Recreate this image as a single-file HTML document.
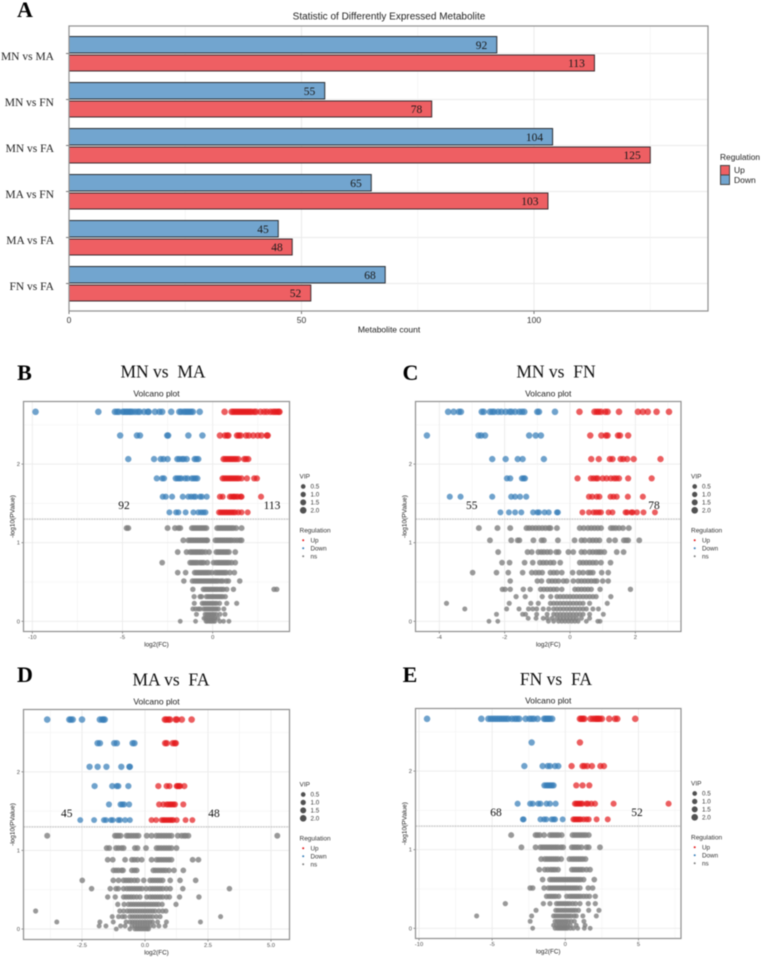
<!DOCTYPE html>
<html lang="en">
<head>
<meta charset="utf-8">
<title>Differently Expressed Metabolites</title>
<style>
html,body{margin:0;padding:0;background:#fff;}
body{width:761px;height:959px;overflow:hidden;}
svg{display:block;}
.sans{font-family:"Liberation Sans",sans-serif;}
.serif{font-family:"Liberation Serif",serif;}
text{white-space:pre;}
</style>
</head>
<body>
<svg id="figure" width="761" height="959" viewBox="0 0 761 959" xmlns="http://www.w3.org/2000/svg" style="filter:blur(0.45px)"></svg>
<script>
// ---------- Panel A data ----------
const comparisons = ["MN vs MA","MN vs FN","MN vs FA","MA vs FN","MA vs FA","FN vs FA"];
const downCounts = [92,55,104,65,45,68];
const upCounts = [113,78,125,103,48,52];
const barTicks = [0,50,100];

// ---------- Shared volcano data ----------
const sigLevels = [2.665,2.364,2.064,1.818,1.585,1.386];
const nsLevels = [1.186,1.03,0.881,0.746,0.619,0.513,0.407,0.314,0.229,0.157,0.089,0.038,0];
const sigVip = [2,1.9,1.8,1.7,1.6,1.5];
const nsVip = [1.5,1.45,1.4,1.35,1.3,1.2,1.1,1,0.9,0.8,0.75,0.7,0.65];
const legendVip = [0.5,1,1.5,2];
const yTicks = [0,1,2];

// ---------- Panel B : MN vs MA ----------
const bDown = [
[-9.82,-6.34,-5.42,-5.3,-5.2,-4.98,-4.9,-4.8,-4.72,-4.62,-4.55,-4.45,-4.3,-4.15,-4.05,-3.8,-3.6,-3.55,-3.2,-2.95,-2.8,-2.3,-1.85,-1.75,-1.6,-1.5,-1.4,-1.3,-1.2,-1.1,-0.72],
[-5.13,-4.2,-4.03,-2.52,-2.47,-1.35,-0.57],
[-4.68,-3.25,-2.88,-2.73,-2.5,-1.96,-1.85,-1.7,-1.6,-1.44,-1,-0.9,-0.8],
[-3.1,-2.8,-2.7,-2.05,-1.95,-1.85,-1.75,-1.53,-1.4,-1.16,-1.05,-0.95,-0.85],
[-2.77,-2.6,-2.25,-1.66,-1.35,-1.2,-1.05,-0.95,-0.7,-0.6,-0.33],
[-2.4,-2.03,-1.9,-1.5,-1.07,-0.8,-0.65,-0.52,-0.4]
];
const bUp = [
[0.66,1.05,1.15,1.25,1.35,1.45,1.55,1.65,1.75,1.85,1.95,2.05,2.15,2.3,2.4,2.65,2.85,3,3.2,3.35,3.45,3.55,3.65,3.7],
[0.4,0.68,0.8,0.87,1.35,1.45,1.55,1.85,2,2.25,2.5,2.7,3,3.05],
[0.6,0.7,0.8,0.9,1,1.1,1.2,1.3,1.42,1.75,1.85,1.97],
[0.55,0.65,0.75,0.85,0.95,1.05,1.15,1.25,1.35,1.45,1.6,1.9,2.3,2.45],
[0.4,0.55,0.95,1.05,1.15,1.2,1.3,1.4,1.55,1.6,2.68],
[0.35,0.45,0.55,0.65,0.75,0.85,0.95,1.05,1.15,1.25,1.42,1.6,1.94]
];
const bNs = [
[-4.77,-4.68,-2.5,-2.09,-1.9,-1.8,-1.15,-1.05,-0.95,-0.85,-0.75,-0.65,-0.55,-0.45,-0.35,0.25,0.35,0.45,0.55,0.65,0.75,0.85,0.95,1.05,1.15,1.3,1.6],
[-1.63,-1.35,-1.25,-1.15,-1.05,-0.95,-0.85,-0.75,-0.65,-0.55,-0.45,-0.35,-0.3,0.15,0.25,0.35,0.45,0.55,0.65,0.75,0.85,0.95,1.05,1.2,1.35,1.5,1.6],
[-1.94,-1.45,-1.25,-1.15,-1.05,-0.95,-0.85,-0.75,-0.65,-0.55,-0.4,-0.2,0.2,0.3,0.4,0.5,0.6,0.7,0.8,0.9,1.25],
[-2.8,-1.25,-1.15,-1.05,-0.95,-0.85,-0.7,-0.6,-0.5,-0.3,0.05,0.2,0.3,0.4,0.5,0.6,0.7,0.8,0.9,1.05,1.25],
[-1.94,-1.5,-1,-0.9,-0.8,-0.7,-0.6,-0.5,-0.4,-0.3,-0.2,-0.05,0.15,0.25,0.35,0.45,0.55,0.65,0.75,0.95,1.2],
[-1.6,-1.12,-1,-0.9,-0.8,-0.7,-0.6,-0.5,-0.4,-0.3,-0.2,-0.1,0,0.1,0.2,0.3,0.45,0.55,0.75,0.87,1.5],
[-1.1,-0.52,-0.42,-0.32,-0.22,-0.12,-0.02,0.08,0.18,0.28,0.4,0.5,0.6,0.78,1.15,3.4,3.55],
[-1.03,-0.7,-0.62,-0.35,-0.25,-0.15,-0.05,0.05,0.15,0.25,0.35,0.45,0.55,0.7],
[-1.02,-0.58,-0.48,-0.38,-0.28,-0.18,-0.08,0.02,0.12,0.22,0.38,0.78,1.33],
[-1.1,-0.95,-0.8,-0.7,-0.5,-0.4,-0.3,-0.2,-0.1,0,0.1,0.2,0.32,0.62],
[-0.9,-0.42,-0.32,-0.22,-0.12,-0.02,0.08,0.2,0.4,0.68],
[-0.48,-0.38,-0.28,-0.18,-0.08,0.02,0.12,0.28],
[-1.8,-0.95,-0.37,-0.3,-0.2,-0.12,-0.05,0.04,0.12,0.4,0.6,0.9]
];

// ---------- Panel C : MN vs FN ----------
const cDown = [
[-3.73,-3.56,-3.4,-3.34,-2.7,-2.64,-2.45,-2.38,-2.32,-2.2,-2.1,-1.97,-1.85,-1.79,-1.68,-1.55,-1.47,-1.4,-1,-0.95,-0.46],
[-4.38,-2.8,-2.72,-2.6,-1.25,-1.05,-0.89],
[-2.38,-1.97,-1.6,-1.45,-0.8],
[-1.93,-1.83,-1.47,-1.42,-1.38],
[-3.68,-3.35,-2.38,-1.8,-1.68,-1.53,-1.34],
[-2.13,-1.87,-1.68,-1.49,-1.13,-1,-0.95,-0.78,-0.65,-0.4,-0.37]
];
const cUp = [
[0.29,0.75,0.82,0.88,0.95,1.08,1.15,1.5,2.08,2.23,2.38,2.65,3.03],
[0.62,0.96,1.1,1.15,1.47,1.53,1.78],
[0.65,0.88,1.22,1.3,1.55,1.63,1.75,1.95,2.77],
[0.23,0.64,0.72,0.8,0.85,1,1.12,1.25,1.35,1.42,1.5,1.78,2.5],
[0.58,0.68,0.82,0.9,1.24,1.33,1.43,1.77,2.23],
[0.38,0.58,0.72,0.8,0.88,0.95,1.18,1.3,1.7,1.75,1.88,1.92,2.05,2.25,2.6]
];
const cNs = [
[-2.79,-2.22,-1.83,-1.33,-1.25,-1.15,-1.05,-0.95,-0.85,-0.75,-0.65,-0.6,-0.4,0.3,0.42,0.55,0.65,0.75,0.85,0.95,1.25,1.32,1.4,1.5,1.62,1.8],
[-2.45,-1.8,-1.6,-1.55,-1.12,-0.87,-0.8,-0.37,0.14,0.35,0.45,0.6,0.7,0.8,0.9,1.2,1.38,1.65,1.72,1.78,2.12],
[-2.2,-1.3,-1.17,-0.97,-0.88,-0.8,-0.7,-0.6,-0.42,-0.35,-0.05,0.1,0.35,0.45,0.6,0.7,0.8,0.88,0.95,1.05,1.43,1.64],
[-2.08,-1.85,-1.39,-1.14,-0.92,-0.82,-0.72,-0.6,-0.5,-0.3,0.3,0.4,0.5,0.6,0.7,0.8,0.95,1.24],
[-2.98,-2.25,-1.89,-1.45,-1.17,-1.05,-0.95,-0.85,-0.6,-0.5,-0.4,-0.25,0.08,0.28,0.4,0.55,0.62,0.7,0.97,1.17],
[-1.83,-1,-0.87,-0.65,-0.55,-0.45,-0.35,-0.2,-0.1,0.1,0.25,0.35,0.45,0.55,0.65,0.75,0.82,1,1.17],
[-2.07,-1.99,-1.83,-1.43,-1.22,-0.9,-0.8,-0.7,-0.6,-0.5,-0.4,-0.25,0.15,0.25,0.35,0.45,0.55,0.65,0.92,1.85],
[-1.65,-1.37,-0.85,-0.59,-0.4,-0.3,-0.2,-0.1,0,0.1,0.2,0.3,0.4,0.5,0.6,0.7,0.8,1.25],
[-3.78,-1.86,-1.2,-0.97,-0.6,-0.5,-0.4,-0.3,-0.2,-0.1,0,0.1,0.2,0.3,0.4,0.6,1.14],
[-3.22,-1.94,-1.56,-1.27,-1.14,-1.02,-0.82,-0.65,-0.5,-0.4,-0.3,-0.2,-0.1,0,0.1,0.2,0.3,0.4,0.5,0.7,0.87],
[-2.25,-1.45,-1.36,-1.02,-0.7,-0.5,-0.4,-0.3,-0.2,-0.1,0,0.1,0.2,0.3,0.4,0.6,1.02],
[-1.28,-1.04,-0.82,-0.7,-0.55,-0.4,-0.3,-0.2,-0.1,0,0.1,0.2,0.35,0.6],
[-2.48,-2.21,-0.66,-0.5,-0.35,-0.25,-0.15,-0.05,0.05,0.15,0.25,0.5,0.85,0.92]
];

// ---------- Panel D : MA vs FA ----------
const dDown = [
[-3.88,-3,-2.94,-2.87,-2.5,-1.79,-1.7,-1.65,-1.6],
[-1.88,-1.79,-1.22,-1.12,-0.49,-0.42],
[-2.2,-1.88,-1.53,-0.94,-0.62,-0.6],
[-2,-1.3,-1.12,-1.06,-0.66],
[-1.43,-0.97,-0.9,-0.83,-0.63],
[-2.57,-2.02,-1.63,-1.55,-1.35,-1.28,-1.06,-0.99,-0.79,-0.6]
];
const dUp = [
[0.79,0.85,0.93,0.99,1.22,1.27,1.46,1.85],
[0.8,0.86,1.1,1.18,1.22],
[],
[0.53,0.86,0.97,1.26,1.3,1.35,1.39,1.56],
[0.56,0.73,0.86,0.93,1,1.06,1.13,1.19,1.52],
[0.26,0.44,0.66,0.73,0.79,0.86,0.93,1,1.06,1.12,1.26,1.61,1.88]
];
const dNs = [
[-3.88,-1.19,-1.12,-1.05,-0.97,-0.73,-0.65,-0.55,-0.45,-0.35,-0.26,0.07,0.26,0.45,0.55,0.65,0.75,0.85,0.95,1.05,1.3,1.45,1.55,1.62,1.72,5.25],
[-1.52,-1.42,-1.15,-1.05,-0.93,-0.85,-0.4,-0.3,0.04,0.46,0.55,0.65,0.75,0.85,0.95,1.05,1.25],
[-1.48,-1.28,-0.79,-0.52,-0.42,-0.3,-0.13,0.26,0.46,0.55,0.65,0.75,0.85,0.95,1.05,1.89,2.12],
[-1.25,-1.15,-1.05,-0.93,-0.87,-0.52,-0.42,-0.33,0.33,0.42,0.52,0.62,0.72,0.82,0.95,1.15,1.52],
[-2.49,-1.26,-1.05,-0.85,-0.75,-0.65,-0.55,-0.42,-0.3,-0.05,0.2,0.3,0.4,0.5,0.6,0.7,1,1.39,2.01],
[-2.12,-1.38,-1.15,-1.06,-0.85,-0.72,-0.62,-0.52,-0.42,-0.32,-0.22,-0.12,0.05,0.2,0.3,0.4,0.5,0.6,0.7,0.85,1,1.5,3.35],
[-1.48,-1.18,-0.85,-0.75,-0.65,-0.55,-0.45,-0.33,-0.2,0.07,0.2,0.3,0.4,0.5,0.6,0.7,0.85,0.97,1.37,2.14],
[-1.08,-0.83,-0.66,-0.56,-0.46,-0.36,-0.26,-0.16,-0.06,0.04,0.14,0.24,0.34,0.44,0.54,0.68,1.23],
[-4.34,-1,-0.85,-0.7,-0.6,-0.5,-0.4,-0.3,-0.2,-0.1,0,0.1,0.2,0.3,0.4,0.55,0.7,0.83],
[-1.3,-1.05,-0.9,-0.8,-0.6,-0.5,-0.4,-0.3,-0.2,-0.1,0,0.1,0.2,0.3,0.45,0.6,3],
[-3.5,-1.79,-1.26,-0.75,-0.6,-0.5,-0.4,-0.3,-0.2,-0.1,0,0.1,0.2,0.3,0.5,0.85,2.2],
[-1.82,-1.55,-0.97,-0.79,-0.52,-0.4,-0.3,-0.2,-0.1,0,0.1,0.2,0.35,0.55,0.8],
[-1.14,-0.6,-0.4,-0.32,-0.24,-0.16,-0.08,0,0.08,0.14]
];

// ---------- Panel E : FN vs FA ----------
const eDown = [
[-9.45,-5.74,-5.26,-5.1,-4.95,-4.8,-4.65,-4.5,-4.35,-4.2,-4.05,-3.9,-3.65,-3.45,-3.3,-3.15,-2.71,-2.45,-2.3,-2.15,-1.9,-1.45,-1.35,-1.25,-1.15,-1.05,-0.9],
[-2.3],
[-2.8,-1.55,-1.2,-1.05,-0.7,-0.48],
[-1.43,-1.3,-1.2,-1.1,-1,-0.9,-0.8],
[-3.26,-2.4,-2.23,-1.85,-1.7,-1.28,-1.05,-0.66],
[-2.9,-2.85,-1.7,-1.45,-1.3,-0.93,-0.8,-0.7,-0.18]
];
const eUp = [
[1,1.1,1.2,1.3,1.73,1.9,2.05,2.15,2.25,2.35,2.5,3,3.4,3.55,4.78],
[1],
[0.43,1.18,1.3,1.5,1.82,2.4,2.64],
[0.75,1.18,1.64],
[0.66,0.76,0.86,0.96,1.06,1.16,1.44,1.55,1.78,2.03,3.3,7.06],
[0.55,0.65,0.75,0.85,0.95,1.05,1.25,1.45,1.6,2.14,2.9]
];
const eNs = [
[-3.7,-2.03,-1.9,-1.75,-1.45,-1.05,-0.9,-0.75,-0.6,-0.45,-0.25,0.5,0.65,0.8,0.95,1.1,1.25,1.4,1.6],
[-3,-2.03,-1.7,-1.55,-1.4,-1.25,-1.1,-0.95,-0.8,-0.65,-0.5,-0.3,-0.15,0.45,0.6,0.75,0.9,1.1,1.45,1.6,2.37],
[-1.65,-1.4,-1.25,-1.1,-0.95,-0.8,-0.65,-0.5,-0.28,0.28,0.45,0.6,0.75,0.9,1.05,1.2,1.38],
[-1.78,-1.4,-1.2,-1,-0.85,-0.7,-0.5,0.45,0.6,0.75,0.9,1.05,1.2,1.45,1.69],
[-1.55,-1.05,-0.9,-0.75,-0.6,-0.45,-0.3,-0.15,0,0.15,0.3,0.45,0.6,0.75,0.9,1.05,1.25,1.98],
[-2.4,-2.23,-1.45,-1.15,-1,-0.85,-0.7,-0.55,-0.4,-0.25,-0.1,0.05,0.2,0.35,0.5,0.65,0.8,1,1.57,1.87],
[-1.28,-1.1,-0.95,-0.8,-0.65,-0.45,0.1,0.3,0.45,0.6,0.75,0.9,1.05,1.25,1.45,1.65,2.05],
[-4.1,-1.5,-1.05,-0.6,-0.45,-0.3,-0.15,0,0.15,0.3,0.5,0.7,1,1.57,2.05],
[-2,-0.65,-0.5,-0.35,-0.2,-0.05,0.1,0.25,0.4,0.55,0.7,0.9,1.6,2.3],
[-6.06,-2.3,-0.8,-0.65,-0.5,-0.35,-0.2,-0.05,0.1,0.25,0.4,0.6,0.75,1.2,2.12],
[-2.4,-0.7,-0.55,-0.4,-0.25,-0.1,0.05,0.2,0.4,0.62,1.27],
[-0.8,-0.6,-0.45,-0.3,-0.15,0,0.15,0.35,0.75,1.35],
[-2.23,-0.7,-0.55,-0.45,-0.35,-0.25,-0.15,-0.05,0.05,0.15,0.35,0.55,0.85,1.3,1.7]
];

const xTicksB = [-10,-5,0];
const xTicksC = [-4,-2,0,2];
const xTicksD = [-2.5,0,2.5,5];
const xTicksE = [-10,-5,0,5];
const countsB = [92,113];
const countsC = [55,78];
const countsD = [45,48];
const countsE = [68,52];

const NS = 'http://www.w3.org/2000/svg';
const root = document.getElementById('figure');

function mk(tag, attrs, parent){
  const el = document.createElementNS(NS, tag);
  for (const k in attrs) el.setAttribute(k, attrs[k]);
  (parent || root).appendChild(el);
  return el;
}
function txt(str, attrs, parent){
  const el = mk('text', attrs, parent);
  el.textContent = str;
  return el;
}

// ---------- Panel A drawing ----------
function drawBars(){
  const g = mk('g', {});
  
  
  const L = 69, R = 708, T = 26, B = 311;
  const xAt = v => L + v * 4.65;
  const rowAt = i => 53.5 + i * 46;

  const bg = mk('rect', {x:L, y:T, width:R-L, height:B-T, fill:'#fff'}, g);
  
  

  [25,75,125].forEach(v => {
    const l = mk('line', {x1:xAt(v), x2:xAt(v), y1:T, y2:B, stroke:'#f3f3f3', 'stroke-width':0.8}, g);
    
    
  });
  barTicks.forEach(v => {
    const l = mk('line', {x1:xAt(v), x2:xAt(v), y1:T, y2:B, stroke:'#ebebeb', 'stroke-width':1}, g);
    
    
    const t = mk('line', {x1:xAt(v), x2:xAt(v), y1:B, y2:B+3, stroke:'#555', 'stroke-width':0.8}, g);
    
    
    const lab = txt(String(v), {x:xAt(v), y:323, 'text-anchor':'middle', 'font-size':8.5, fill:'#333', class:'sans'}, g);
    
    
  });

  comparisons.forEach((name, i) => {
    const cy = rowAt(i);
    const gl = mk('line', {x1:L, x2:R, y1:cy, y2:cy, stroke:'#ebebeb', 'stroke-width':1}, g);
    
    
    const t = mk('line', {x1:L-3, x2:L, y1:cy, y2:cy, stroke:'#555', 'stroke-width':0.8}, g);
    
    
    const lab = txt(name, {x:54, y:cy+6.5, 'text-anchor':'end', 'font-size':11.5, fill:'#222', class:'serif'}, g);
    
    

    const d = mk('rect', {x:L, y:cy-17, width:xAt(downCounts[i])-L, height:16.5, fill:'#72a5cf', stroke:'#2b2f35', 'stroke-width':1}, g);
    
    
    const u = mk('rect', {x:L, y:cy+1.5, width:xAt(upCounts[i])-L, height:16, fill:'#ee5f63', stroke:'#3d2b2f', 'stroke-width':1}, g);
    
    
    const dl = txt(String(downCounts[i]), {x:xAt(downCounts[i])-9.5, y:cy-4.5, 'text-anchor':'end', 'font-size':11.5, fill:'#1a1a1a', class:'serif'}, g);
    
    
    const ul = txt(String(upCounts[i]), {x:xAt(upCounts[i])-9.5, y:cy+13.5, 'text-anchor':'end', 'font-size':11.5, fill:'#1a1a1a', class:'serif'}, g);
    
    
  });

  const fr = mk('rect', {x:L, y:T, width:R-L, height:B-T, fill:'none', stroke:'#8f8f8f', 'stroke-width':1.2}, g);
  
  

  const title = txt('Statistic of Differently Expressed Metabolite', {x:389, y:19.5, 'text-anchor':'middle', 'font-size':10, fill:'#222', class:'sans'}, g);
  
  
  const xt = txt('Metabolite count', {x:389, y:332.5, 'text-anchor':'middle', 'font-size':8.5, fill:'#222', class:'sans'}, g);
  
  

  const lt = txt('Regulation', {x:720, y:160, 'font-size':8.4, fill:'#222', class:'sans'}, g);
  
  
  const s1 = mk('rect', {x:720.5, y:165.5, width:9, height:9.5, fill:'#ee5f63', stroke:'#444', 'stroke-width':1}, g);
  
  
  const s2 = mk('rect', {x:720.5, y:175, width:9, height:9.5, fill:'#72a5cf', stroke:'#444', 'stroke-width':1}, g);
  
  
  const l1 = txt('Up', {x:734, y:173, 'font-size':8.5, fill:'#222', class:'sans'}, g);
  
  
  const l2 = txt('Down', {x:734, y:183, 'font-size':8.5, fill:'#222', class:'sans'}, g);
  
  
}

// ---------- Volcano drawing ----------
function radius(vip){ return 2 + 0.65 * vip; }

function drawVolcano(p){
  const g = mk('g', {});
  
  
  const xAt = v => p.x0 + v * p.xUnit;
  const yAt = v => p.y0 - v * 78.6;

  const majorX = p.xTicks;
  const step = majorX[1] - majorX[0];
  const minorX = [];
  for (let v = majorX[0] - step/2; v <= majorX[majorX.length-1] + step; v += step) minorX.push(v);
  minorX.forEach(v => {
    if (xAt(v) <= p.L || xAt(v) >= p.R) return;
    const l = mk('line', {x1:xAt(v), x2:xAt(v), y1:p.T, y2:p.B, stroke:'#f4f4f4', 'stroke-width':0.7}, g);
    
    
  });
  [0.5,1.5,2.5].forEach(v => {
    const l = mk('line', {x1:p.L, x2:p.R, y1:yAt(v), y2:yAt(v), stroke:'#f4f4f4', 'stroke-width':0.7}, g);
    
    
  });
  majorX.forEach(v => {
    const l = mk('line', {x1:xAt(v), x2:xAt(v), y1:p.T, y2:p.B, stroke:'#ebebeb', 'stroke-width':0.9}, g);
    
    
    const t = mk('line', {x1:xAt(v), x2:xAt(v), y1:p.B, y2:p.B+2, stroke:'#555', 'stroke-width':0.6}, g);
    
    
    const lab = txt(Number.isInteger(step) ? String(v) : v.toFixed(1), {x:xAt(v), y:p.B+7.5, 'text-anchor':'middle', 'font-size':5.8, fill:'#4d4d4d', class:'sans'}, g);
    
    
  });
  yTicks.forEach(v => {
    const l = mk('line', {x1:p.L, x2:p.R, y1:yAt(v), y2:yAt(v), stroke:'#ebebeb', 'stroke-width':0.9}, g);
    
    
    const t = mk('line', {x1:p.L-2, x2:p.L, y1:yAt(v), y2:yAt(v), stroke:'#555', 'stroke-width':0.6}, g);
    
    
    const lab = txt(String(v), {x:p.L-3.5, y:yAt(v)+2, 'text-anchor':'end', 'font-size':5.8, fill:'#4d4d4d', class:'sans'}, g);
    
    
  });

  function series(rows, levels, vips, color, opacity, name){
    rows.forEach((row, r) => {
      row.forEach(v => {
        const c = mk('circle', {cx:xAt(v), cy:yAt(levels[r]), r:radius(vips[r]), fill:color, 'fill-opacity':opacity}, g);
        
        
      });
    });
  }
  series(p.ns, nsLevels, nsVip, '#7f7f7f', 0.8, 'point-ns');
  series(p.down, sigLevels, sigVip, '#377eb8', 0.72, 'point-down');
  series(p.up, sigLevels, sigVip, '#e41a1c', 0.7, 'point-up');

  const thr = mk('line', {x1:p.L, x2:p.R, y1:yAt(1.3), y2:yAt(1.3), stroke:'#cfcfcf', 'stroke-width':1.5, 'stroke-dasharray':'2 0.6'}, g);
  
  

  const fr = mk('rect', {x:p.L, y:p.T, width:p.R-p.L, height:p.B-p.T, fill:'none', stroke:'#8f8f8f', 'stroke-width':1.2}, g);
  
  

  const letter = txt(p.letter, {x:p.letterX, y:p.letterY, 'text-anchor':'middle', 'font-size':22, 'font-weight':'bold', fill:'#000', class:'serif'}, g);
  
  
  const head = txt(p.title, {x:p.titleX, y:p.titleY, 'text-anchor':'middle', 'font-size':17.5, fill:'#111', class:'serif'}, g);
  
  
  const mid = (p.L + p.R) / 2;
  const vt = txt('Volcano plot', {x:mid, y:p.T-5.2, 'text-anchor':'middle', 'font-size':8.5, fill:'#222', class:'sans'}, g);
  
  
  const xt = txt('log2(FC)', {x:mid, y:p.B+15, 'text-anchor':'middle', 'font-size':6.3, fill:'#222', class:'sans'}, g);
  
  
  const cy = (p.T + p.B) / 2;
  const ax = p.L - 8.8;
  const yt = txt('-log10(PValue)', {x:ax, y:cy, 'text-anchor':'middle', 'font-size':6.5, fill:'#222', class:'sans', transform:'rotate(-90 '+ax+' '+cy+')'}, g);
  
  

  const c1 = txt(String(p.counts[0]), {x:p.cx1, y:p.T+107.5, 'text-anchor':'middle', 'font-size':11.5, fill:'#111', class:'serif'}, g);
  
  
  const c2 = txt(String(p.counts[1]), {x:p.cx2, y:p.T+107.5, 'text-anchor':'middle', 'font-size':11.5, fill:'#111', class:'serif'}, g);
  
  

  // legends
  const lx = p.R + 10;
  const vipT = txt('VIP', {x:lx, y:p.T+77, 'font-size':6.5, fill:'#333', class:'sans'}, g);
  
  
  legendVip.forEach((v, i) => {
    const y = p.T + 85 + i * 7.95;
    const d = mk('circle', {cx:lx+3.7, cy:y, r:radius(v), fill:'#333', 'fill-opacity':0.85}, g);
    
    
    const t = txt(v.toFixed(1), {x:lx+11, y:y+2.2, 'font-size':6.3, fill:'#333', class:'sans'}, g);
    
    
  });
  const regT = txt('Regulation', {x:lx, y:p.T+131, 'font-size':6.5, fill:'#333', class:'sans'}, g);
  
  
  [['Up','#e41a1c'],['Down','#377eb8'],['ns','#7f7f7f']].forEach((e, i) => {
    const y = p.T + 138.7 + i * 8;
    const d = mk('circle', {cx:lx+3.7, cy:y, r:1, fill:e[1]}, g);
    
    
    const t = txt(e[0], {x:lx+11, y:y+2.2, 'font-size':6.3, fill:'#333', class:'sans'}, g);
    
    
  });
}

const A = txt('A', {x:25, y:17, 'text-anchor':'middle', 'font-size':22, 'font-weight':'bold', fill:'#000', class:'serif'});



drawBars();
drawVolcano({id:'b', letter:'B', letterX:24.5, letterY:380, title:'MN vs  MA', titleX:163, titleY:377.5,
  L:23.5, R:289.5, T:401.5, B:631.5, x0:212.7, xUnit:18.04, y0:621.3,
  xTicks:xTicksB, down:bDown, up:bUp, ns:bNs, counts:countsB, cx1:124, cx2:272});
drawVolcano({id:'c', letter:'C', letterX:410.5, letterY:380, title:'MN vs  FN', titleX:556, titleY:377.5,
  L:415.5, R:681, T:401.5, B:631.5, x0:570, xUnit:32.67, y0:621.3,
  xTicks:xTicksC, down:cDown, up:cUp, ns:cNs, counts:countsC, cx1:471.7, cx2:654});
drawVolcano({id:'d', letter:'D', letterX:25, letterY:682, title:'MA vs  FA', titleX:171, titleY:685.5,
  L:23.5, R:289.5, T:709.5, B:939.5, x0:145, xUnit:25.2, y0:929,
  xTicks:xTicksD, down:dDown, up:dUp, ns:dNs, counts:countsD, cx1:66.7, cx2:214});
drawVolcano({id:'e', letter:'E', letterX:410, letterY:682, title:'FN vs  FA', titleX:556, titleY:685,
  L:415.5, R:681, T:708.5, B:938.5, x0:565.3, xUnit:14.63, y0:928.3,
  xTicks:xTicksE, down:eDown, up:eUp, ns:eNs, counts:countsE, cx1:496, cx2:637});
</script>
</body>
</html>
